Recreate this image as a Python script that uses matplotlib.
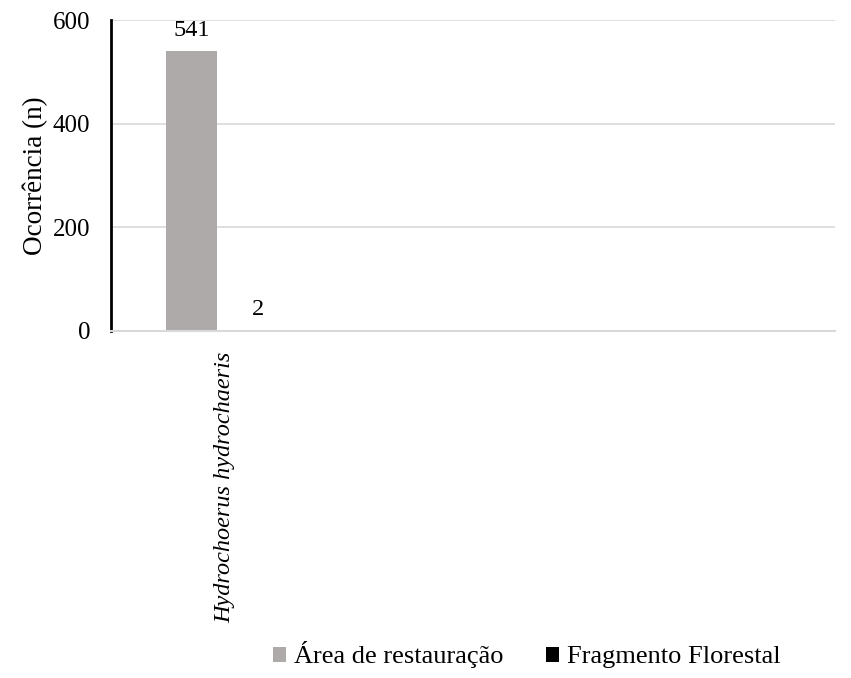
import matplotlib.pyplot as plt
import numpy as np

plt.rcParams['font.family'] = ['Liberation Serif', 'DejaVu Serif']

categorias = ['Hydrochoerus hydrochaeris']
restauracao = [541]
fragmento = [2]
yticks = [0, 200, 400, 600]

cor_restauracao = '#AEAAAA'
cor_fragmento = '#000000'
grid_cor = '#D9D9D9'

fig = plt.figure(figsize=(8.51, 6.78), dpi=100)
ax = fig.add_axes([0.1304, 0.5118, 0.8506, 0.4587])

x = np.arange(len(categorias))
largura = 0.224
desloc = 0.145

b1 = ax.bar(x - desloc, restauracao, largura, color=cor_restauracao, label='Área de restauração', zorder=3)
b2 = ax.bar(x + desloc, fragmento, largura, color=cor_fragmento, label='Fragmento Florestal', zorder=3)

for barras in (b1, b2):
    for b in barras:
        ax.annotate(str(int(b.get_height())), (b.get_x() + b.get_width() / 2, b.get_height()),
                    xytext=(0, 7), textcoords='offset points', ha='center', va='bottom', fontsize=17.5)

ax.set_xlim(-0.5, 2.675)
ax.set_ylim(0, 600)
ax.set_yticks(yticks)
ax.set_xticks(x)
ax.set_xticklabels(categorias, rotation=90, style='italic', fontsize=17.5)
ax.tick_params(axis='y', length=0, pad=15, labelsize=18)
ax.tick_params(axis='x', length=0, pad=15)

ax.yaxis.grid(True, color=grid_cor, linewidth=1.2, zorder=0)
ax.set_axisbelow(True)
for s in ['top', 'right']:
    ax.spines[s].set_visible(False)
ax.spines['left'].set_color('black')
ax.spines['left'].set_linewidth(2)
ax.spines['bottom'].set_color(grid_cor)
ax.spines['bottom'].set_linewidth(1.5)
ax.spines['bottom'].set_zorder(5)

ax.set_ylabel('Ocorrência (n)', fontsize=19.5, labelpad=3)

fig.legend(handles=[b1, b2], loc='center', bbox_to_anchor=(0.619, 0.034), ncol=2,
           frameon=False, fontsize=19, handlelength=0.5, handleheight=0.5,
           handletextpad=0.3, columnspacing=1.6)

fig.savefig('out.png', dpi=100)
